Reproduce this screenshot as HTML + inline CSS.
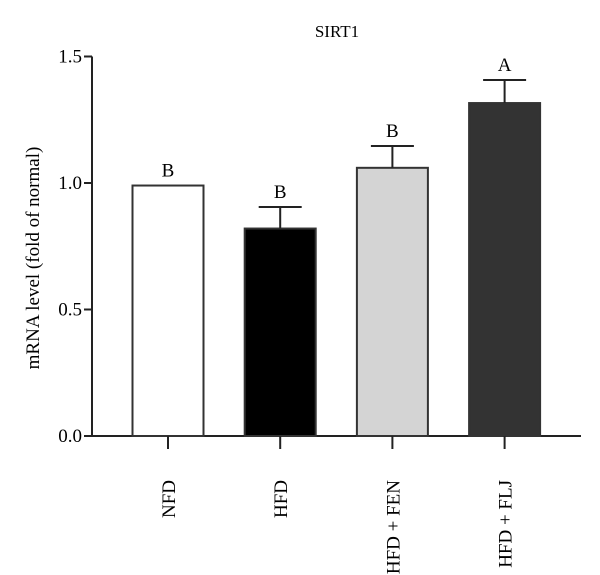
<!DOCTYPE html>
<html><head><meta charset="utf-8"><style>
body{margin:0;background:#fff}
svg{display:block;font-family:"Liberation Serif",serif}
</style></head><body>
<svg width="600" height="575" viewBox="0 0 600 575">
<text x="337" y="37" font-size="17" text-anchor="middle">SIRT1</text>
<text transform="translate(39,258) rotate(-90)" font-size="19" text-anchor="middle">mRNA level (fold of normal)</text>
<g id="chart"></g>
</svg>
<script>
const categories=["NFD","HFD","HFD + FEN","HFD + FLJ"];
const values=[0.99,0.82,1.06,1.316];
const errors=[0,0.085,0.086,0.091];
const letters=["B","B","B","A"];
const fills=["#ffffff","#000000","#d4d4d4","#333333"];
const yTicks=[0,0.5,1.0,1.5];
const yTickLabels=["0.0","0.5","1.0","1.5"];
const ns="http://www.w3.org/2000/svg";
const g=document.getElementById('chart');
const axX=92,y0=436,pxPerUnit=253,firstCenter=168,step=112.2,barW=71;
function y(v){return y0-v*pxPerUnit;}
function xc(i){return firstCenter+i*step;}
function mk(t,a){const e=document.createElementNS(ns,t);for(const k in a)e.setAttribute(k,a[k]);g.appendChild(e);return e;}
let e;
e=mk('line',{x1:axX,y1:y(1.5),x2:axX,y2:y0+1,stroke:'#222','stroke-width':2});


e=mk('line',{x1:axX,y1:y0,x2:581,y2:y0,stroke:'#222','stroke-width':2});


yTicks.forEach((v,i)=>{
 e=mk('line',{x1:axX-8,y1:y(v),x2:axX,y2:y(v),stroke:'#222','stroke-width':2});
 
 
 e=mk('text',{x:axX-10,y:y(v)+6,'font-size':19,'text-anchor':'end'});
 e.textContent=yTickLabels[i];
 
 
});
categories.forEach((c,i)=>{
 const cx=xc(i);
 e=mk('rect',{x:cx-barW/2,y:y(values[i]),width:barW,height:y0-y(values[i]),fill:fills[i],stroke:'#333','stroke-width':2});
 
 
 let top=y(values[i]);
 if(errors[i]>0){
  const ye=y(values[i]+errors[i]);
  e=mk('line',{x1:cx,y1:top,x2:cx,y2:ye,stroke:'#222','stroke-width':2});
  
  
  e=mk('line',{x1:cx-21.5,y1:ye,x2:cx+21.5,y2:ye,stroke:'#222','stroke-width':2});
  
  
  top=ye;
 }
 e=mk('text',{x:cx,y:top-9,'font-size':19,'text-anchor':'middle'});
 e.textContent=letters[i];
 
 
 e=mk('line',{x1:cx,y1:y0,x2:cx,y2:y0+13,stroke:'#222','stroke-width':2});
 
 
 e=mk('text',{transform:'translate('+(cx+7)+',480) rotate(-90)','font-size':19,'text-anchor':'end'});
 e.textContent=c;
 
 
});
</script>
</body></html>
